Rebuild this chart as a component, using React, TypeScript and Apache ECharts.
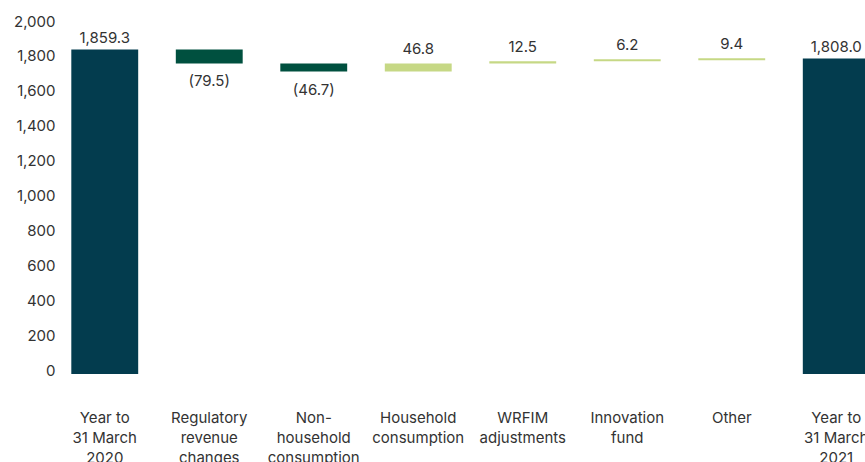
import React, { useEffect, useRef } from "react";
import * as echarts from "echarts";

const categories = [
  "Year to\n31 March\n2020",
  "Regulatory\nrevenue\nchanges",
  "Non-\nhousehold\nconsumption",
  "Household\nconsumption",
  "WRFIM\nadjustments",
  "Innovation\nfund",
  "Other",
  "Year to\n31 March\n2021",
];
const values = [1859.3, -79.5, -46.7, 46.8, 12.5, 6.2, 9.4, 1808.0];
const isTotal = [true, false, false, false, false, false, false, true];
const yTicks = { min: 0, max: 2000, interval: 200 };

const COLOR_TOTAL = "#033c4e";
const COLOR_NEG = "#00503f";
const COLOR_POS = "#c6d885";
const TEXT = "#333333";
const FONT = "Inter";
const FS = 15;

function fmt(v: number): string {
  const a = Math.abs(v);
  const s = a.toLocaleString("en-US", { minimumFractionDigits: 1, maximumFractionDigits: 1 });
  return v < 0 ? `(${s})` : s;
}

export default function App() {
  const ref = useRef<HTMLDivElement>(null);
  useEffect(() => {
    if (!ref.current) return;
    const chart = echarts.init(ref.current, null, { renderer: "svg" });

    let running = 0;
    const base: number[] = [];
    const shown: any[] = [];
    values.forEach((v, i) => {
      if (isTotal[i]) {
        base.push(0);
        running = v;
        shown.push({
          value: v,
          itemStyle: { color: COLOR_TOTAL },
          label: { position: "top" },
        });
      } else {
        const next = running + v;
        base.push(Math.min(running, next));
        shown.push({
          value: Math.abs(v),
          itemStyle: { color: v < 0 ? COLOR_NEG : COLOR_POS },
          label: { position: v < 0 ? "bottom" : "top", distance: v < 0 ? 10 : 7 },
        });
        running = next;
      }
    });

    chart.setOption({
      animation: false,
      textStyle: { fontFamily: FONT },
      grid: {
        left: 52.5,
        right: -23.5,
        top: 25,
        bottom: 88,
        containLabel: false,
        outerBoundsMode: "none",
      },
      xAxis: {
        type: "category",
        data: categories,
        axisLine: { show: false },
        axisTick: { show: false },
        axisLabel: {
          color: TEXT,
          fontFamily: FONT,
          fontSize: FS,
          lineHeight: 20,
          margin: 33,
          interval: 0,
        },
      },
      yAxis: {
        type: "value",
        min: yTicks.min,
        max: yTicks.max,
        interval: yTicks.interval,
        axisLine: { show: false },
        axisTick: { show: false },
        splitLine: { show: false },
        axisLabel: {
          color: TEXT,
          fontFamily: FONT,
          fontSize: FS,
          margin: -3,
          verticalAlign: "bottom",
          lineHeight: 8,
          formatter: (v: number) => v.toLocaleString("en-US"),
        },
      },
      series: [
        {
          type: "bar",
          stack: "w",
          data: base,
          itemStyle: { color: "transparent" },
          silent: true,
          barWidth: "64%",
        },
        {
          type: "bar",
          stack: "w",
          data: shown,
          barWidth: "64%",
          barMinHeight: 2,
          label: {
            show: true,
            color: TEXT,
            fontFamily: FONT,
            fontSize: FS,
            distance: 5,
            formatter: (p: any) => fmt(values[p.dataIndex]),
          },
        },
      ],
    });
    return () => chart.dispose();
  }, []);

  return (
    <div
      ref={ref}
      style={{ position: "absolute", left: 0, top: 0, width: 865, height: 462 }}
    />
  );
}
